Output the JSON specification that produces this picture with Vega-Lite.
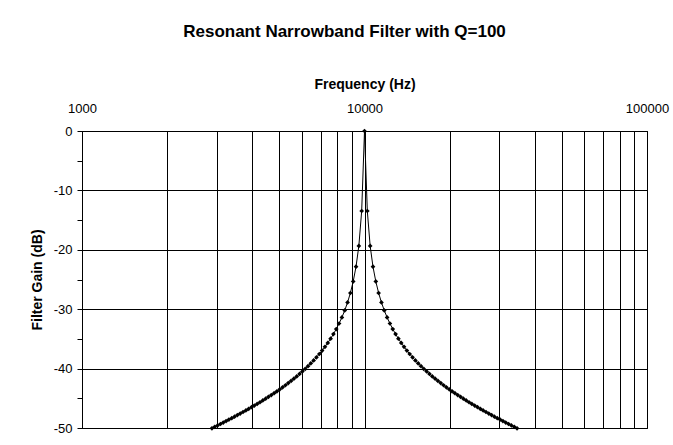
{
  "$schema": "https://vega.github.io/schema/vega-lite/v6.json",
  "autosize": {"type": "none"},
  "width": 565,
  "height": 297,
  "padding": {"left": 82, "top": 131, "right": 26, "bottom": 17},
  "background": "white",
  "config": {
    "font": "Liberation Sans",
    "view": {"stroke": "#000", "strokeWidth": 1}
  },
  "title": {
    "text": "Resonant Narrowband Filter with Q=100",
    "font": "Liberation Sans",
    "fontSize": 17,
    "fontWeight": "bold",
    "color": "#000",
    "anchor": "middle",
    "dx": -20,
    "offset": 36
  },
  "data": {
    "values": [
      {"f": 2884.0, "g": -50.05},
      {"f": 2951.2, "g": -49.81},
      {"f": 3020.0, "g": -49.57},
      {"f": 3090.3, "g": -49.33},
      {"f": 3162.3, "g": -49.08},
      {"f": 3235.9, "g": -48.84},
      {"f": 3311.3, "g": -48.59},
      {"f": 3388.4, "g": -48.34},
      {"f": 3467.4, "g": -48.09},
      {"f": 3548.1, "g": -47.83},
      {"f": 3630.8, "g": -47.57},
      {"f": 3715.4, "g": -47.31},
      {"f": 3801.9, "g": -47.04},
      {"f": 3890.5, "g": -46.77},
      {"f": 3981.1, "g": -46.50},
      {"f": 4073.8, "g": -46.22},
      {"f": 4168.7, "g": -45.94},
      {"f": 4265.8, "g": -45.66},
      {"f": 4365.2, "g": -45.36},
      {"f": 4466.8, "g": -45.07},
      {"f": 4570.9, "g": -44.76},
      {"f": 4677.4, "g": -44.46},
      {"f": 4786.3, "g": -44.14},
      {"f": 4897.8, "g": -43.82},
      {"f": 5011.9, "g": -43.49},
      {"f": 5128.6, "g": -43.15},
      {"f": 5248.1, "g": -42.80},
      {"f": 5370.3, "g": -42.44},
      {"f": 5495.4, "g": -42.08},
      {"f": 5623.4, "g": -41.70},
      {"f": 5754.4, "g": -41.31},
      {"f": 5888.4, "g": -40.90},
      {"f": 6025.6, "g": -40.48},
      {"f": 6166.0, "g": -40.05},
      {"f": 6309.6, "g": -39.59},
      {"f": 6456.5, "g": -39.12},
      {"f": 6606.9, "g": -38.62},
      {"f": 6760.8, "g": -38.10},
      {"f": 6918.3, "g": -37.54},
      {"f": 7079.5, "g": -36.96},
      {"f": 7244.4, "g": -36.34},
      {"f": 7413.1, "g": -35.67},
      {"f": 7585.8, "g": -34.96},
      {"f": 7762.5, "g": -34.19},
      {"f": 7943.3, "g": -33.34},
      {"f": 8128.3, "g": -32.41},
      {"f": 8317.6, "g": -31.38},
      {"f": 8511.4, "g": -30.21},
      {"f": 8709.6, "g": -28.86},
      {"f": 8912.5, "g": -27.27},
      {"f": 9120.1, "g": -25.33},
      {"f": 9332.5, "g": -22.84},
      {"f": 9549.9, "g": -19.34},
      {"f": 9772.4, "g": -13.47},
      {"f": 10000, "g": 0},
      {"f": 10232.9, "g": -13.47},
      {"f": 10471.3, "g": -19.34},
      {"f": 10715.2, "g": -22.84},
      {"f": 10964.8, "g": -25.33},
      {"f": 11220.2, "g": -27.27},
      {"f": 11481.5, "g": -28.86},
      {"f": 11748.9, "g": -30.21},
      {"f": 12022.6, "g": -31.38},
      {"f": 12302.7, "g": -32.41},
      {"f": 12589.3, "g": -33.34},
      {"f": 12882.5, "g": -34.19},
      {"f": 13182.6, "g": -34.96},
      {"f": 13489.6, "g": -35.67},
      {"f": 13803.8, "g": -36.34},
      {"f": 14125.4, "g": -36.96},
      {"f": 14454.4, "g": -37.54},
      {"f": 14791.1, "g": -38.10},
      {"f": 15135.6, "g": -38.62},
      {"f": 15488.2, "g": -39.12},
      {"f": 15848.9, "g": -39.59},
      {"f": 16218.1, "g": -40.05},
      {"f": 16595.9, "g": -40.48},
      {"f": 16982.4, "g": -40.90},
      {"f": 17378.0, "g": -41.31},
      {"f": 17782.8, "g": -41.70},
      {"f": 18197.0, "g": -42.08},
      {"f": 18620.9, "g": -42.44},
      {"f": 19054.6, "g": -42.80},
      {"f": 19498.4, "g": -43.15},
      {"f": 19952.6, "g": -43.49},
      {"f": 20417.4, "g": -43.82},
      {"f": 20893.0, "g": -44.14},
      {"f": 21379.6, "g": -44.46},
      {"f": 21877.6, "g": -44.76},
      {"f": 22387.2, "g": -45.07},
      {"f": 22908.7, "g": -45.36},
      {"f": 23442.3, "g": -45.66},
      {"f": 23988.3, "g": -45.94},
      {"f": 24547.1, "g": -46.22},
      {"f": 25118.9, "g": -46.50},
      {"f": 25704.0, "g": -46.77},
      {"f": 26302.7, "g": -47.04},
      {"f": 26915.3, "g": -47.31},
      {"f": 27542.3, "g": -47.57},
      {"f": 28183.8, "g": -47.83},
      {"f": 28840.3, "g": -48.09},
      {"f": 29512.1, "g": -48.34},
      {"f": 30199.5, "g": -48.59},
      {"f": 30903.0, "g": -48.84},
      {"f": 31622.8, "g": -49.08},
      {"f": 32359.4, "g": -49.33},
      {"f": 33113.1, "g": -49.57},
      {"f": 33884.4, "g": -49.81},
      {"f": 34673.7, "g": -50.05}
    ]
  },
  "encoding": {
    "x": {
      "field": "f",
      "type": "quantitative",
      "scale": {"type": "log", "domain": [1000, 100000], "nice": false},
      "axis": {
        "orient": "top",
        "title": "Frequency (Hz)",
        "titleFont": "Liberation Sans",
        "titleFontSize": 14,
        "titleFontWeight": "bold",
        "titleColor": "#000",
        "titlePadding": 11,
        "values": [1000, 2000, 3000, 4000, 5000, 6000, 7000, 8000, 9000, 10000, 20000, 30000, 40000, 50000, 60000, 70000, 80000, 90000, 100000],
        "labelExpr": "(datum.value == 1000 || datum.value == 10000 || datum.value == 100000) ? ('' + datum.value) : ''",
        "labelFont": "Liberation Sans",
        "labelFontSize": 13,
        "labelColor": "#000",
        "labelPadding": 16,
        "labelFlush": false,
        "labelOverlap": false,
        "ticks": false,
        "tickSize": 0,
        "domainColor": "#000",
        "grid": true,
        "gridColor": "#000",
        "gridOpacity": 1,
        "gridWidth": 1
      }
    },
    "y": {
      "field": "g",
      "type": "quantitative",
      "scale": {"domain": [-50, 0], "nice": false, "zero": false},
      "axis": {
        "title": "Filter Gain (dB)",
        "titleFont": "Liberation Sans",
        "titleFontSize": 14,
        "titleFontWeight": "bold",
        "titleColor": "#000",
        "titlePadding": 9,
        "values": [0, -5, -10, -15, -20, -25, -30, -35, -40, -45, -50],
        "labelExpr": "datum.value % 10 == 0 ? ('' + datum.value) : ''",
        "labelFont": "Liberation Sans",
        "labelFontSize": 13,
        "labelColor": "#000",
        "labelPadding": 5,
        "labelOverlap": false,
        "labelFlush": false,
        "ticks": true,
        "tickSize": 5,
        "tickColor": "#000",
        "domainColor": "#000",
        "grid": true,
        "gridColor": "#000",
        "gridWidth": 1,
        "gridOpacity": {"condition": {"test": "datum.value % 10 != 0", "value": 0}, "value": 1}
      }
    }
  },
  "layer": [
    {
      "mark": {"type": "line", "color": "#000", "strokeWidth": 1}
    },
    {
      "mark": {"type": "point", "shape": "diamond", "filled": true, "color": "#000", "size": 22, "opacity": 1}
    }
  ]
}
